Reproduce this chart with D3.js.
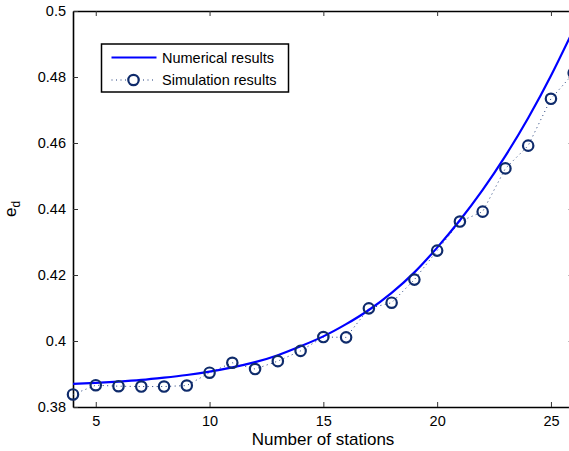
<!DOCTYPE html>
<html>
<head>
<meta charset="utf-8">
<script src="https://cdn.jsdelivr.net/npm/d3@7"></script>
<style>
  body { margin: 0; background: #fff; }
  svg { display: block; font-family: "Liberation Sans", Arial, sans-serif; }
</style>
</head>
<body>
<svg width="569" height="451"></svg>
<script>
// number of stations
var stations = [4, 5, 6, 7, 8, 9, 10, 11, 12, 13, 14, 15, 16, 17, 18, 19, 20, 21, 22, 23, 24, 25, 26];
// numerical results (solid blue)
var numerical = [0.3870, 0.3873, 0.3877, 0.3882, 0.3889, 0.3897, 0.3907, 0.3920, 0.3936, 0.3957, 0.3984,
                 0.4014, 0.4051, 0.4094, 0.4146, 0.4208, 0.4283, 0.4366, 0.4458, 0.4561, 0.4676, 0.4804, 0.4945];
// simulation results (circles)
var simulation = [0.3838, 0.3866, 0.3863, 0.3862, 0.3862, 0.3865, 0.3904, 0.3934, 0.3915, 0.3939, 0.3970,
                  0.4012, 0.4011, 0.4099, 0.4116, 0.4186, 0.4274, 0.4362, 0.4392, 0.4523, 0.4592, 0.4734, 0.4812];
var xTicks = [5, 10, 15, 20, 25];
var yTicks = [0.38, 0.4, 0.42, 0.44, 0.46, 0.48, 0.5];

var svg = d3.select("svg");

var x = d3.scaleLinear().domain([4, 26]).range([73, 573.7]);
var y = d3.scaleLinear().domain([0.38, 0.5]).range([407, 11]);

var g = svg.append("g");

// axes box (right side runs past the window edge)
g.append("g")
    .attr("transform", "translate(0,407)")
    .call(d3.axisBottom(x).tickValues(xTicks).tickSizeInner(-5).tickSizeOuter(0).tickPadding(9).tickFormat(d3.format("d")));
g.append("g")
    .attr("transform", "translate(0,11)")
    .call(d3.axisTop(x).tickValues(xTicks).tickSizeInner(-5).tickSizeOuter(0).tickFormat(""));
g.append("g")
    .attr("transform", "translate(73,0)")
    .call(d3.axisLeft(y).tickValues(yTicks).tickSizeInner(-5).tickSizeOuter(0).tickPadding(7).tickFormat(function(d) { return d3.format("")(+d.toFixed(2)); }));
g.append("g")
    .attr("transform", "translate(573.7,0)")
    .call(d3.axisRight(y).tickValues(yTicks).tickSizeInner(-5).tickSizeOuter(0).tickFormat(""));

g.selectAll(".domain").attr("stroke", "#000").attr("stroke-width", 1.6);
g.selectAll(".tick line").attr("stroke", "#333").attr("stroke-width", 1);
g.selectAll(".tick text").attr("font-size", 14.5).attr("fill", "#000")
    .attr("font-family", "Liberation Sans, Arial, sans-serif");

// simulation dotted line
var line = d3.line()
    .x(function(d, i) { return x(stations[i]); })
    .y(function(d) { return y(d); });

svg.append("path")
    .datum(simulation)
    .attr("fill", "none")
    .attr("stroke", "#1c3a78")
    .attr("stroke-width", 1)
    .attr("stroke-dasharray", "1,3.5")
    .attr("d", line);

// numerical curve
svg.append("path")
    .datum(numerical)
    .attr("fill", "none")
    .attr("stroke", "#0000ff")
    .attr("stroke-width", 2.2)
    .attr("d", line.curve(d3.curveNatural));

// simulation markers
svg.append("g").selectAll("circle")
    .data(simulation)
    .enter().append("circle")
      .attr("cx", function(d, i) { return x(stations[i]); })
      .attr("cy", function(d) { return y(d); })
      .attr("r", 5.2)
      .attr("fill", "none")
      .attr("stroke", "#0f2b6b")
      .attr("stroke-width", 2.2);

// axis labels
svg.append("text")
    .attr("x", 323)
    .attr("y", 445)
    .attr("text-anchor", "middle")
    .attr("font-size", 17)
    .text("Number of stations");

var yl = svg.append("text")
    .attr("transform", "translate(16,209) rotate(-90)")
    .attr("text-anchor", "middle")
    .attr("font-size", 17);
yl.append("tspan").text("e");
yl.append("tspan").attr("font-size", 12).attr("dy", 4).text("d");

// legend
var leg = svg.append("g");
leg.append("rect")
    .attr("x", 101.5).attr("y", 44).attr("width", 187).attr("height", 48)
    .attr("fill", "#fff").attr("stroke", "#000").attr("stroke-width", 1.5);
leg.append("line")
    .attr("x1", 111.5).attr("x2", 156.5).attr("y1", 57.5).attr("y2", 57.5)
    .attr("stroke", "#0000ff").attr("stroke-width", 2.2);
leg.append("line")
    .attr("x1", 111.5).attr("x2", 156.5).attr("y1", 80).attr("y2", 80)
    .attr("stroke", "#1c3a78").attr("stroke-width", 1).attr("stroke-dasharray", "1,3.5");
leg.append("circle")
    .attr("cx", 133.5).attr("cy", 80).attr("r", 5.2)
    .attr("fill", "#fff").attr("stroke", "#0f2b6b").attr("stroke-width", 2.2);
leg.append("text").attr("x", 162).attr("y", 62.5).attr("font-size", 14.5).text("Numerical results");
leg.append("text").attr("x", 162).attr("y", 85).attr("font-size", 14.5).text("Simulation results");
</script>
</body>
</html>
